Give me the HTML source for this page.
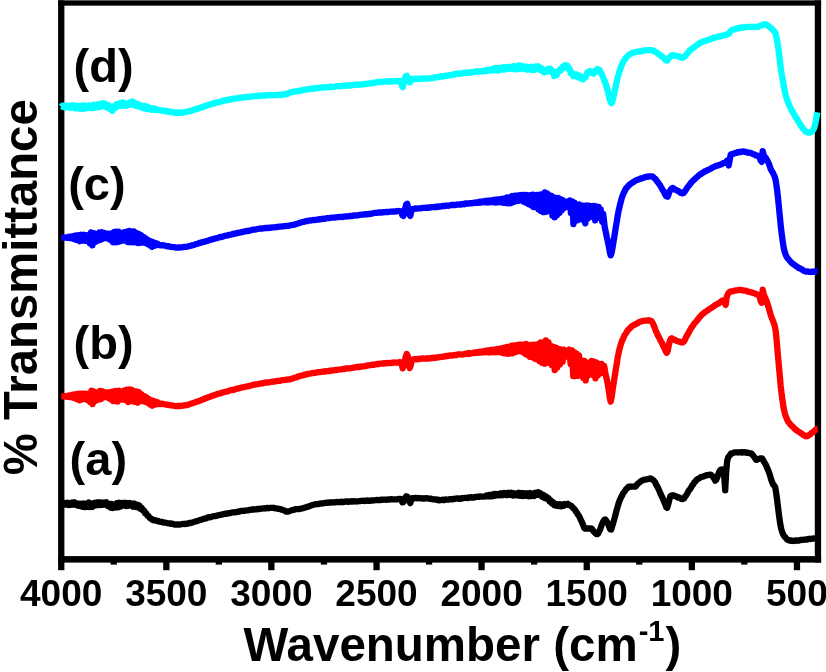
<!DOCTYPE html>
<html><head><meta charset="utf-8"><title>FTIR</title>
<style>html,body{margin:0;padding:0;background:#fff;width:826px;height:672px;overflow:hidden}</style>
</head><body>
<svg width="826" height="672" viewBox="0 0 826 672" style="display:block;position:absolute;left:0;top:0">
<rect x="0" y="0" width="826" height="672" fill="#fff"/>
<rect x="58.1" y="0.35" width="763.0" height="5.3" fill="#000"/>
<rect x="58.1" y="0.35" width="6.3" height="562.2" fill="#000"/>
<rect x="814.8" y="0.35" width="6.3" height="562.2" fill="#000"/>
<rect x="58.1" y="556.1" width="763.0" height="6.5" fill="#000"/>
<rect x="58.1" y="560" width="6.3" height="10.2" fill="#000"/>
<rect x="163.2" y="560" width="6.3" height="10.2" fill="#000"/>
<rect x="268.2" y="560" width="6.3" height="10.2" fill="#000"/>
<rect x="373.4" y="560" width="6.3" height="10.2" fill="#000"/>
<rect x="478.4" y="560" width="6.3" height="10.2" fill="#000"/>
<rect x="583.6" y="560" width="6.3" height="10.2" fill="#000"/>
<rect x="688.7" y="560" width="6.3" height="10.2" fill="#000"/>
<rect x="793.8" y="560" width="6.3" height="10.2" fill="#000"/>
<rect x="110.6" y="560" width="6.3" height="4.6" fill="#000"/>
<rect x="215.7" y="560" width="6.3" height="4.6" fill="#000"/>
<rect x="320.8" y="560" width="6.3" height="4.6" fill="#000"/>
<rect x="425.9" y="560" width="6.3" height="4.6" fill="#000"/>
<rect x="531.0" y="560" width="6.3" height="4.6" fill="#000"/>
<rect x="636.1" y="560" width="6.3" height="4.6" fill="#000"/>
<rect x="741.2" y="560" width="6.3" height="4.6" fill="#000"/>
<polyline points="61.2,504.4 62.7,503.0 63.8,504.7 65.0,503.0 66.4,504.5 67.4,502.8 68.6,505.0 69.5,503.0 70.9,504.6 72.4,502.5 73.4,504.5 74.6,502.4 75.8,504.8 77.0,503.5 78.0,505.6 79.3,503.7 80.4,505.9 81.6,503.9 82.5,506.8 83.8,503.4 84.8,507.1 86.3,503.9 87.4,506.8 88.8,502.6 90.0,507.0 91.4,503.4 92.7,506.9 94.2,503.0 95.5,505.3 96.6,502.5 97.8,505.1 99.1,502.4 100.4,504.9 101.6,502.5 103.1,504.7 104.3,502.5 105.2,504.5 106.6,502.4 107.9,506.0 108.9,503.7 110.5,507.7 111.8,503.9 112.8,508.0 114.4,504.4 115.6,507.4 116.9,503.3 117.8,507.4 119.3,502.8 120.7,506.6 122.0,502.9 123.2,505.4 124.7,502.8 125.7,505.9 127.0,503.1 128.1,505.9 129.4,502.9 130.7,505.3 131.7,503.6 133.0,506.7 134.5,503.6 136.0,506.9 137.5,504.7 138.4,507.6 139.3,505.5 140.4,508.7 141.7,507.8 142.7,510.4 144.0,510.4 145.0,513.2 146.3,513.4 147.5,515.7 148.7,516.2 149.7,518.0 151.2,518.7 152.3,519.8 153.3,520.4 154.3,519.9 155.3,520.2 156.3,520.5 157.3,521.2 158.3,521.0 159.3,521.6 160.3,521.8 161.3,521.9 162.3,521.9 163.3,522.6 164.3,522.7 165.3,522.7 166.3,522.8 167.3,523.2 168.3,523.3 169.3,523.5 170.3,523.5 171.3,523.9 172.3,523.7 173.3,524.0 174.3,524.5 175.3,524.6 176.3,524.4 177.3,524.7 178.3,524.4 179.3,524.7 180.3,524.5 181.3,524.2 182.3,524.0 183.3,523.8 184.3,524.2 185.3,523.6 186.3,523.9 187.3,523.8 188.3,523.4 189.3,522.9 190.3,523.1 191.3,522.9 192.3,522.5 193.3,522.2 194.3,521.8 195.3,521.5 196.3,521.2 197.3,521.1 198.3,520.7 199.3,520.2 200.3,519.9 201.3,519.8 202.3,519.3 203.3,519.0 204.3,518.6 205.3,518.6 206.3,518.3 207.3,517.6 208.3,517.4 209.3,517.2 210.3,517.3 211.3,517.0 212.3,516.5 213.3,516.2 214.3,516.2 215.3,516.1 216.3,515.9 217.3,515.4 218.3,515.4 219.3,515.1 220.3,514.8 221.3,514.9 222.3,514.3 223.3,514.3 224.3,513.8 225.3,513.7 226.3,513.9 227.3,513.4 228.3,513.4 229.3,513.2 230.3,513.1 231.3,512.7 232.3,512.5 233.3,512.3 234.3,512.5 235.3,512.2 236.3,512.2 237.3,512.0 238.3,511.4 239.3,511.5 240.3,511.1 241.3,510.9 242.3,510.8 243.3,511.0 244.3,510.8 245.3,510.7 246.3,510.4 247.3,510.3 248.3,510.3 249.3,510.0 250.3,509.9 251.3,509.6 252.3,509.4 253.3,509.4 254.3,509.6 255.3,509.3 256.3,509.4 257.3,509.0 258.3,508.9 259.3,509.0 260.3,508.9 261.3,508.5 262.3,508.7 263.3,508.3 264.3,508.2 265.3,508.5 266.3,508.0 267.3,508.0 268.3,508.3 269.3,507.9 270.3,507.8 271.3,507.8 272.3,507.8 273.3,508.0 274.3,507.9 275.3,508.3 276.3,508.3 277.3,508.7 278.3,508.9 279.3,508.9 280.3,509.1 281.3,509.5 282.3,509.6 283.3,510.2 284.3,510.5 285.3,510.9 286.3,511.7 287.3,511.5 288.3,511.5 289.3,511.2 290.3,510.8 291.3,510.3 292.3,510.2 293.3,509.9 294.3,509.7 295.3,509.2 296.3,509.1 297.3,509.2 298.3,509.2 299.3,508.9 300.3,508.8 301.3,508.7 302.3,508.3 303.3,508.2 304.3,507.8 305.3,507.5 306.3,507.1 307.3,506.8 308.3,506.7 309.3,506.0 310.3,505.8 311.3,505.4 312.3,505.2 313.3,504.8 314.3,504.5 315.3,504.3 316.3,504.1 317.3,504.2 318.3,504.1 319.3,503.7 320.3,503.5 321.3,503.5 322.3,503.4 323.3,503.3 324.3,503.0 325.3,502.8 326.3,502.8 327.3,502.6 328.3,502.8 329.3,502.5 330.3,502.4 331.3,502.6 332.3,502.3 333.3,502.5 334.3,502.3 335.3,502.4 336.3,502.0 337.3,502.1 338.3,502.2 339.3,501.8 340.3,502.2 341.3,501.7 342.3,502.0 343.3,502.0 344.3,501.9 345.3,501.6 346.3,501.4 347.3,501.6 348.3,501.8 349.3,501.4 350.3,501.7 351.3,501.2 352.3,501.6 353.3,501.1 354.3,501.2 355.3,501.5 356.3,501.4 357.3,501.4 358.3,501.3 359.3,501.2 360.3,501.1 361.3,500.8 362.3,500.9 363.3,500.7 364.3,501.0 365.3,500.9 366.3,500.6 367.3,500.4 368.3,500.9 369.3,500.8 370.3,500.6 371.3,500.5 372.3,500.6 373.3,500.4 374.3,500.3 375.3,500.2 376.3,500.1 377.3,499.9 378.3,500.2 379.3,500.0 380.3,500.1 381.3,499.7 382.3,499.8 383.3,499.7 384.3,499.6 385.3,499.6 386.3,499.9 387.3,499.6 388.3,499.5 389.3,499.6 390.3,499.3 391.3,499.2 392.3,499.4 393.3,499.4 394.3,499.4 395.3,499.3 396.3,499.4 397.3,499.4 398.3,499.0 399.3,499.1 400.3,499.0 401.3,499.1 402.3,502.3 403.3,502.3 404.3,499.4 405.3,497.5 406.3,496.3 407.3,496.7 408.3,498.2 409.3,501.4 410.3,503.1 411.3,499.7 412.3,498.1 413.3,498.2 414.3,498.3 415.3,497.9 416.3,498.1 417.3,498.3 418.3,498.0 419.3,498.2 420.3,498.3 421.3,498.2 422.3,498.5 423.3,498.5 424.3,498.6 425.3,498.4 426.3,498.2 427.3,498.4 428.3,498.4 429.3,498.7 430.3,498.9 431.3,498.6 432.3,499.2 433.3,499.4 434.3,499.3 435.3,499.6 436.3,499.5 437.3,500.1 438.3,499.6 439.3,500.3 440.3,500.2 441.3,500.0 442.3,499.7 443.3,500.1 444.3,500.1 445.3,499.4 446.3,499.7 447.3,499.7 448.3,499.5 449.3,499.4 450.3,499.1 451.3,499.4 452.3,499.4 453.3,498.9 454.3,499.1 455.3,498.8 456.3,498.5 457.3,498.6 458.3,498.4 459.3,498.9 460.3,498.8 461.3,498.1 462.3,498.4 463.3,498.2 464.3,497.8 465.3,497.9 466.3,497.8 467.3,498.1 468.3,497.4 469.3,497.4 470.3,497.5 471.3,497.1 472.3,497.5 473.3,497.4 474.3,497.5 475.3,496.9 476.3,496.8 477.3,496.9 478.3,496.6 479.3,496.8 480.3,496.4 481.3,496.7 482.3,496.7 483.3,496.6 484.3,496.7 485.3,496.5 486.5,495.4 488.0,496.3 489.1,495.2 490.1,496.2 491.1,494.7 492.4,496.1 493.8,494.1 494.8,495.6 496.1,494.1 497.3,495.3 498.6,494.0 499.8,495.1 500.9,493.4 502.4,495.1 503.6,493.0 504.8,494.6 505.7,493.1 507.0,495.1 508.5,492.8 510.1,494.8 511.6,492.9 513.0,495.4 514.1,493.3 515.4,495.2 516.6,493.6 517.8,495.3 518.9,492.9 520.3,495.8 521.8,493.1 523.0,495.9 524.4,493.2 525.7,495.7 527.1,493.2 528.6,496.1 530.1,493.0 531.6,496.0 532.7,493.5 534.1,496.0 535.4,492.8 536.9,494.7 538.1,492.2 539.4,494.9 540.6,493.4 541.9,496.7 543.2,494.9 544.6,498.1 545.9,496.3 547.0,498.8 548.5,498.2 549.5,501.4 550.7,500.4 552.0,503.5 553.0,502.2 554.4,505.3 555.5,503.7 556.6,505.8 557.6,504.2 559.1,505.9 560.1,504.4 561.5,506.3 562.5,504.5 563.8,505.6 565.0,504.0 566.4,504.7 567.8,503.8 569.4,505.3 570.9,505.5 572.2,506.8 573.2,508.2 574.2,508.9 575.2,510.1 576.2,512.0 577.2,513.1 578.2,515.1 579.2,516.3 580.2,518.5 581.2,520.6 582.2,522.8 583.2,525.2 584.2,528.0 585.2,528.7 586.2,528.4 587.2,528.5 588.2,528.4 589.2,528.6 590.2,528.6 591.2,528.3 592.2,529.1 593.2,530.8 594.2,531.9 595.2,533.2 596.2,533.9 597.2,534.2 598.2,533.6 599.2,531.3 600.2,529.4 601.2,526.2 602.2,523.8 603.2,521.6 604.2,520.0 605.2,519.4 606.2,520.5 607.2,522.3 608.2,523.8 609.2,527.0 610.2,529.3 611.2,529.5 612.2,526.1 613.2,523.0 614.2,519.5 615.2,515.9 616.2,511.7 617.2,508.4 618.2,504.7 619.2,501.5 620.2,499.1 621.2,497.1 622.2,495.3 623.2,493.2 624.2,491.9 625.2,490.5 626.2,489.0 627.2,488.4 628.2,486.9 629.2,486.6 630.2,486.9 631.2,486.5 632.2,486.7 633.2,486.5 634.2,486.6 635.2,486.6 636.2,485.9 637.2,484.3 638.2,483.3 639.2,482.9 640.2,481.6 641.2,481.1 642.2,480.5 643.2,480.1 644.2,479.6 645.2,479.7 646.2,479.5 647.2,479.2 648.2,479.0 649.2,478.7 650.2,478.5 651.2,478.6 652.2,479.5 653.2,480.2 654.2,481.1 655.2,482.4 656.2,484.6 657.2,486.3 658.2,488.2 659.2,490.6 660.2,492.9 661.2,495.1 662.2,497.1 663.2,499.5 664.2,501.9 665.2,504.1 666.2,507.1 667.2,507.8 668.2,504.4 669.2,500.3 670.2,496.6 671.2,495.6 672.2,495.5 673.2,495.2 674.2,495.9 675.2,495.8 676.2,496.6 677.2,497.1 678.2,497.6 679.2,497.5 680.2,498.0 681.2,498.9 682.2,499.0 683.2,498.9 684.2,498.3 685.2,496.4 686.2,495.3 687.2,493.5 688.2,491.6 689.2,490.1 690.2,488.8 691.2,487.4 692.2,485.4 693.2,484.3 694.2,482.6 695.2,481.7 696.2,480.2 697.2,479.4 698.2,478.8 699.2,478.4 700.2,477.6 701.2,476.9 702.2,476.9 703.2,476.5 704.2,476.2 705.2,475.6 706.2,475.4 707.2,475.1 708.2,475.1 709.2,474.8 710.2,474.6 711.2,474.9 712.2,475.9 713.2,477.2 714.2,478.6 715.2,480.6 716.2,479.8 717.2,477.5 718.2,474.7 719.2,471.8 720.2,470.2 721.2,469.5 722.2,469.3 723.2,469.5 724.2,476.1 725.2,490.3 726.2,471.4 727.2,460.7 728.2,457.4 729.2,456.0 730.2,454.8 731.2,453.3 732.2,453.3 733.2,452.9 734.2,452.5 735.2,452.3 736.2,452.3 737.2,452.3 738.2,452.5 739.2,452.3 740.2,452.3 741.2,452.1 742.2,452.6 743.2,452.2 744.2,452.3 745.2,452.2 746.2,452.8 747.2,452.6 748.2,452.9 749.2,453.1 750.2,453.3 751.2,453.4 752.2,454.3 753.2,455.6 754.2,457.0 755.2,458.4 756.2,459.8 757.2,459.6 758.2,459.2 759.2,458.7 760.2,458.5 761.2,458.5 762.2,458.5 763.2,460.3 764.2,462.1 765.2,463.7 766.2,465.7 767.2,468.1 768.2,470.3 769.2,473.0 770.2,476.0 771.2,479.7 772.2,482.4 773.2,484.6 774.2,485.5 775.2,487.2 776.2,493.2 777.2,500.5 778.2,508.9 779.2,516.6 780.2,523.6 781.2,528.9 782.2,532.1 783.2,534.5 784.2,536.2 785.2,537.2 786.2,538.3 787.2,539.6 788.2,540.0 789.2,540.1 790.2,540.9 791.2,540.5 792.2,540.7 793.2,541.0 794.2,540.8 795.2,540.5 796.2,540.8 797.2,540.5 798.2,540.6 799.2,540.5 800.2,540.0 801.2,540.0 802.2,539.8 803.2,539.9 804.2,539.7 805.2,539.5 806.2,539.5 807.2,539.5 808.2,538.9 809.2,538.8 810.2,539.0 811.2,538.9 812.2,538.7 813.2,538.6 814.2,538.4 815.2,538.7 816.2,538.6 817.2,538.5" fill="none" stroke="#000000" stroke-width="6.3" stroke-linejoin="round" stroke-linecap="butt"/>
<polyline points="61.2,396.2 62.7,396.3 63.7,396.3 65.1,396.6 66.2,396.0 67.5,396.8 68.6,395.6 69.8,397.0 71.3,395.2 72.6,397.4 73.7,394.6 74.7,398.2 75.9,394.3 77.3,399.3 78.6,393.7 79.6,400.3 80.7,393.6 82.2,399.5 83.3,393.5 84.7,399.1 86.1,393.7 87.5,400.1 89.0,393.7 90.1,402.1 91.5,390.6 92.7,404.2 94.2,391.7 95.6,401.0 97.1,392.9 98.3,399.7 99.7,390.9 101.0,399.2 102.1,391.2 103.2,397.6 104.4,392.0 105.5,396.6 106.9,392.4 108.1,397.7 109.4,392.3 110.5,399.0 112.0,391.6 113.0,401.0 114.4,391.2 115.5,401.0 116.5,390.8 117.7,401.5 119.1,390.6 120.4,399.7 121.5,391.5 122.9,399.6 124.3,390.4 125.5,400.1 126.8,389.6 128.3,402.0 129.6,389.4 130.8,401.2 131.8,389.9 133.2,401.0 134.2,391.2 135.3,401.9 136.5,391.5 137.8,402.6 139.0,392.1 140.2,401.2 141.6,394.3 143.0,401.0 144.3,396.1 145.4,401.8 146.6,397.4 147.8,402.7 148.9,399.0 150.1,404.5 151.2,400.3 152.3,405.7 153.5,400.9 154.8,404.5 155.8,401.8 156.9,404.1 158.2,402.6 159.7,404.0 160.7,404.1 161.7,403.6 162.7,403.9 163.7,404.0 164.7,404.3 165.7,404.5 166.7,404.7 167.7,404.9 168.7,404.9 169.7,405.1 170.7,405.3 171.7,405.3 172.7,405.5 173.7,405.8 174.7,405.8 175.7,406.2 176.7,406.1 177.7,406.0 178.7,406.0 179.7,406.0 180.7,405.9 181.7,405.9 182.7,405.7 183.7,405.5 184.7,405.4 185.7,405.1 186.7,405.1 187.7,404.9 188.7,404.5 189.7,404.1 190.7,403.8 191.7,403.5 192.7,403.0 193.7,402.8 194.7,402.5 195.7,402.0 196.7,401.6 197.7,401.5 198.7,401.0 199.7,400.7 200.7,400.4 201.7,399.9 202.7,399.3 203.7,399.2 204.7,398.6 205.7,398.1 206.7,398.0 207.7,397.4 208.7,397.1 209.7,396.9 210.7,396.5 211.7,395.9 212.7,395.7 213.7,395.4 214.7,395.0 215.7,394.6 216.7,394.4 217.7,393.9 218.7,393.7 219.7,393.4 220.7,393.3 221.7,392.7 222.7,392.7 223.7,392.2 224.7,392.0 225.7,391.7 226.7,391.4 227.7,391.3 228.7,390.9 229.7,390.5 230.7,390.2 231.7,389.9 232.7,390.0 233.7,389.6 234.7,389.5 235.7,389.1 236.7,388.6 237.7,388.6 238.7,388.4 239.7,388.2 240.7,387.8 241.7,387.5 242.7,387.3 243.7,387.2 244.7,386.8 245.7,386.7 246.7,386.4 247.7,386.4 248.7,386.1 249.7,385.9 250.7,385.6 251.7,385.2 252.7,384.9 253.7,384.8 254.7,384.5 255.7,384.4 256.7,384.3 257.7,384.2 258.7,383.9 259.7,383.8 260.7,383.3 261.7,383.3 262.7,383.4 263.7,382.9 264.7,382.8 265.7,382.5 266.7,382.4 267.7,382.6 268.7,382.5 269.7,382.2 270.7,381.8 271.7,381.8 272.7,381.6 273.7,381.6 274.7,381.5 275.7,381.2 276.7,381.1 277.7,380.8 278.7,380.8 279.7,380.9 280.7,380.6 281.7,380.2 282.7,380.2 283.7,380.2 284.7,379.8 285.7,379.9 286.7,379.6 287.7,379.6 288.7,379.3 289.7,379.4 290.7,379.1 291.7,378.8 292.7,378.4 293.7,378.2 294.7,377.7 295.7,377.5 296.7,377.3 297.7,376.6 298.7,376.4 299.7,376.1 300.7,375.8 301.7,375.6 302.7,375.4 303.7,375.0 304.7,374.7 305.7,374.6 306.7,374.1 307.7,374.0 308.7,373.8 309.7,373.7 310.7,373.5 311.7,373.1 312.7,373.1 313.7,372.9 314.7,372.8 315.7,372.8 316.7,372.5 317.7,372.1 318.7,372.2 319.7,372.1 320.7,372.1 321.7,371.8 322.7,371.8 323.7,371.3 324.7,371.6 325.7,371.4 326.7,371.2 327.7,371.2 328.7,371.1 329.7,370.6 330.7,370.8 331.7,370.6 332.7,370.3 333.7,370.4 334.7,370.2 335.7,369.9 336.7,370.0 337.7,369.6 338.7,369.7 339.7,369.5 340.7,369.3 341.7,369.3 342.7,369.1 343.7,368.8 344.7,369.1 345.7,368.5 346.7,368.4 347.7,368.4 348.7,368.5 349.7,368.3 350.7,368.2 351.7,367.9 352.7,367.9 353.7,367.6 354.7,367.4 355.7,367.4 356.7,367.0 357.7,366.9 358.7,367.1 359.7,366.6 360.7,366.8 361.7,366.6 362.7,366.3 363.7,366.3 364.7,366.2 365.7,366.1 366.7,365.6 367.7,365.4 368.7,365.4 369.7,365.3 370.7,365.0 371.7,364.7 372.7,364.8 373.7,364.9 374.7,364.4 375.7,364.3 376.7,364.1 377.7,364.0 378.7,364.1 379.7,363.7 380.7,363.7 381.7,363.5 382.7,363.5 383.7,363.6 384.7,363.1 385.7,363.4 386.7,363.0 387.7,363.1 388.7,363.1 389.7,363.0 390.7,362.8 391.7,363.0 392.7,362.5 393.7,362.7 394.7,362.5 395.7,362.6 396.7,362.7 397.7,362.6 398.7,362.4 399.7,362.2 400.7,362.1 401.7,364.4 402.7,368.4 403.7,365.9 404.7,361.5 405.7,357.0 406.7,353.9 407.7,355.8 408.7,362.0 409.7,368.1 410.7,365.4 411.7,360.7 412.7,359.5 413.7,359.3 414.7,359.1 415.7,359.4 416.7,359.3 417.7,358.9 418.7,359.0 419.7,359.1 420.7,358.7 421.7,358.5 422.7,358.6 423.7,358.5 424.7,358.7 425.7,358.5 426.7,358.4 427.7,358.6 428.7,358.2 429.7,358.5 430.7,358.3 431.7,358.0 432.7,358.1 433.7,357.7 434.7,357.9 435.7,357.8 436.7,357.4 437.7,357.4 438.7,357.4 439.7,357.1 440.7,356.9 441.7,356.9 442.7,356.8 443.7,356.5 444.7,356.5 445.7,356.0 446.7,356.1 447.7,356.0 448.7,355.7 449.7,355.6 450.7,355.3 451.7,355.7 452.7,355.2 453.7,355.2 454.7,355.3 455.7,354.8 456.7,355.1 457.7,354.5 458.7,354.4 459.7,354.4 460.7,354.3 461.7,354.6 462.7,354.5 463.7,354.3 464.7,353.9 465.7,353.9 466.7,353.4 467.7,354.0 468.7,353.1 469.8,353.8 470.8,353.4 472.3,352.8 473.3,353.2 474.5,352.5 475.6,353.0 476.7,352.1 478.0,352.8 479.2,351.8 480.2,352.6 481.6,351.4 483.0,352.4 484.3,351.0 485.5,352.2 486.8,350.6 488.3,352.3 489.5,350.2 490.7,352.2 492.0,349.9 493.2,352.1 494.7,349.5 496.0,352.3 497.2,349.0 498.3,352.1 499.3,348.9 500.7,352.2 501.7,348.2 503.1,353.1 504.2,347.7 505.3,353.5 506.6,346.9 508.1,353.7 509.1,346.8 510.2,353.6 511.5,345.6 512.8,353.3 513.9,345.4 515.3,352.2 516.6,345.2 517.7,351.5 518.7,344.7 519.8,351.0 520.8,344.6 522.0,351.7 523.4,344.6 524.8,353.7 526.3,343.9 527.3,354.8 528.6,345.0 529.8,356.8 531.0,345.0 532.2,357.0 533.6,344.7 534.9,358.7 536.3,344.7 537.4,359.4 538.7,343.8 539.7,361.4 540.8,342.5 542.1,362.9 543.4,342.8 544.8,363.7 545.8,340.5 547.2,361.9 548.5,342.4 549.6,363.2 550.9,345.8 552.0,365.3 553.5,346.8 554.7,370.2 555.9,347.7 557.2,367.6 558.7,348.8 559.9,364.5 561.2,349.4 562.6,361.9 563.9,349.6 565.4,356.6 566.5,352.3 567.7,356.8 569.2,349.5 570.6,363.9 572.0,350.4 573.2,376.0 574.4,352.4 575.5,376.1 576.6,353.6 577.9,375.9 579.0,355.4 580.4,374.1 581.7,360.4 583.2,377.7 584.3,360.9 585.7,380.4 586.7,362.8 587.8,376.1 589.0,362.4 590.4,373.8 591.6,361.0 593.0,375.0 594.3,361.6 595.4,378.4 596.6,362.6 597.9,375.5 599.2,363.9 600.6,373.5 601.7,364.0 603.1,372.7 604.2,365.9 605.7,375.0 606.7,378.9 607.7,383.9 608.7,389.7 609.7,397.4 610.7,401.7 611.7,396.7 612.7,389.4 613.7,382.9 614.7,376.4 615.7,370.1 616.7,363.9 617.7,357.5 618.7,352.5 619.7,348.3 620.7,344.7 621.7,341.7 622.7,339.3 623.7,337.3 624.7,334.9 625.7,333.7 626.7,332.1 627.7,330.3 628.7,329.5 629.7,328.3 630.7,327.4 631.7,326.3 632.7,325.7 633.7,325.1 634.7,324.6 635.7,324.0 636.7,323.6 637.7,323.1 638.7,322.4 639.7,321.8 640.7,321.7 641.7,321.2 642.7,320.9 643.7,320.8 644.7,320.7 645.7,320.6 646.7,320.5 647.7,320.7 648.7,320.2 649.7,320.6 650.7,320.6 651.7,321.3 652.7,323.0 653.7,325.2 654.7,327.8 655.7,330.6 656.7,332.7 657.7,335.1 658.7,336.8 659.7,338.7 660.7,340.9 661.7,342.6 662.7,344.4 663.7,347.0 664.7,348.8 665.7,351.3 666.7,352.8 667.7,351.2 668.7,345.7 669.7,341.3 670.7,338.8 671.7,338.3 672.7,338.9 673.7,339.6 674.7,339.6 675.7,340.5 676.7,341.0 677.7,341.2 678.7,341.7 679.7,341.6 680.7,342.1 681.7,342.4 682.7,342.4 683.7,341.7 684.7,340.2 685.7,337.9 686.7,336.0 687.7,334.4 688.7,332.7 689.7,330.7 690.7,329.0 691.7,327.2 692.7,326.1 693.7,324.2 694.7,323.0 695.7,322.1 696.7,320.9 697.7,319.4 698.7,318.5 699.7,316.9 700.7,316.1 701.7,314.8 702.7,314.0 703.7,313.2 704.7,312.2 705.7,311.7 706.7,311.0 707.7,310.2 708.7,309.7 709.7,308.7 710.7,308.2 711.7,307.6 712.7,306.9 713.7,306.5 714.7,305.4 715.7,305.0 716.7,304.4 717.7,303.7 718.7,303.4 719.7,302.5 720.7,301.8 721.7,301.0 722.7,300.3 723.7,300.3 724.7,303.2 725.7,304.9 726.7,297.2 727.7,294.5 728.7,292.6 729.7,292.0 730.7,291.4 731.7,291.4 732.7,291.3 733.7,290.9 734.7,290.7 735.7,290.4 736.7,290.3 737.7,290.2 738.7,290.1 739.7,289.9 740.7,289.8 741.7,290.2 742.7,290.4 743.7,290.5 744.7,290.7 745.7,290.6 746.7,291.0 747.7,291.6 748.7,291.9 749.7,291.9 750.7,292.2 751.7,292.6 752.7,292.6 753.7,293.2 754.7,293.3 755.7,294.0 756.7,294.1 757.7,294.7 758.7,295.2 759.7,296.9 760.7,301.1 761.7,302.8 762.7,289.7 763.7,294.5 764.7,296.8 765.7,299.0 766.7,301.5 767.7,304.4 768.7,307.9 769.7,311.2 770.7,315.0 771.7,317.7 772.7,320.1 773.7,322.9 774.7,325.6 775.7,331.0 776.7,340.8 777.7,352.7 778.7,364.0 779.7,374.8 780.7,386.1 781.7,394.8 782.7,402.0 783.7,408.5 784.7,412.9 785.7,416.1 786.7,418.6 787.7,420.9 788.7,422.3 789.7,423.4 790.7,424.9 791.7,425.7 792.7,426.6 793.7,427.7 794.7,428.7 795.7,429.7 796.7,430.3 797.7,431.1 798.7,431.7 799.7,432.2 800.7,433.1 801.7,433.6 802.7,434.7 803.7,435.0 804.7,435.8 805.7,436.3 806.7,436.0 807.7,436.1 808.7,435.3 809.7,434.6 810.7,434.0 811.7,432.8 812.7,432.3 813.7,431.5 814.7,430.6 815.7,429.8 816.7,429.0 817.7,428.9" fill="none" stroke="#ff0000" stroke-width="6.3" stroke-linejoin="round" stroke-linecap="butt"/>
<polyline points="61.2,237.4 62.5,237.5 63.8,237.6 64.8,237.7 66.2,237.3 67.3,237.9 68.6,236.9 69.8,238.1 70.9,236.5 72.3,238.4 73.7,236.1 74.7,239.2 76.0,235.5 77.0,240.1 78.3,235.3 79.7,241.2 81.2,234.7 82.6,240.7 84.0,234.7 85.1,240.7 86.2,235.1 87.4,241.0 88.6,235.1 89.8,243.2 91.1,232.5 92.5,245.3 94.0,233.1 95.5,242.0 96.5,234.5 98.0,240.6 99.3,232.4 100.4,240.0 101.7,232.1 102.7,239.0 104.2,232.9 105.6,238.0 106.7,233.6 108.1,238.6 109.1,233.8 110.1,239.7 111.3,233.5 112.8,242.2 114.3,231.9 115.3,242.3 116.3,231.6 117.6,242.2 118.6,231.7 120.1,241.5 121.5,233.2 122.7,240.6 124.0,232.3 125.3,240.8 126.6,231.6 127.9,242.2 129.2,230.8 130.4,242.2 131.6,231.5 132.6,242.3 133.9,231.5 135.2,242.3 136.3,232.8 137.5,243.0 138.7,233.8 140.0,243.0 141.1,235.1 142.5,242.5 143.8,237.0 144.9,242.9 146.1,238.5 147.4,243.9 148.6,240.2 149.6,245.2 151.0,241.2 152.1,246.9 153.2,242.1 154.4,245.7 155.5,243.1 156.6,245.1 157.8,243.9 158.9,245.0 160.3,245.3 161.3,245.1 162.3,245.1 163.3,245.3 164.3,245.6 165.3,245.7 166.3,246.1 167.3,246.3 168.3,246.2 169.3,246.4 170.3,246.8 171.3,246.9 172.3,247.1 173.3,247.1 174.3,247.2 175.3,247.4 176.3,247.7 177.3,247.5 178.3,247.5 179.3,247.5 180.3,247.4 181.3,247.3 182.3,247.4 183.3,247.0 184.3,246.8 185.3,247.0 186.3,246.8 187.3,246.7 188.3,246.2 189.3,246.2 190.3,246.0 191.3,245.5 192.3,245.4 193.3,245.2 194.3,244.8 195.3,244.4 196.3,244.0 197.3,243.8 198.3,243.4 199.3,243.0 200.3,242.9 201.3,242.5 202.3,242.4 203.3,241.8 204.3,241.8 205.3,241.4 206.3,241.2 207.3,240.9 208.3,240.6 209.3,240.2 210.3,239.7 211.3,239.7 212.3,239.2 213.3,238.9 214.3,238.8 215.3,238.5 216.3,238.2 217.3,238.1 218.3,237.7 219.3,237.3 220.3,237.0 221.3,237.0 222.3,236.6 223.3,236.5 224.3,236.0 225.3,235.7 226.3,235.6 227.3,235.5 228.3,235.0 229.3,235.0 230.3,234.8 231.3,234.5 232.3,234.3 233.3,233.7 234.3,233.8 235.3,233.7 236.3,233.1 237.3,233.0 238.3,232.8 239.3,232.7 240.3,232.4 241.3,232.2 242.3,232.2 243.3,231.6 244.3,231.5 245.3,231.3 246.3,231.1 247.3,230.9 248.3,231.0 249.3,230.8 250.3,230.3 251.3,230.2 252.3,229.9 253.3,229.7 254.3,229.6 255.3,229.5 256.3,229.3 257.3,229.0 258.3,228.8 259.3,228.7 260.3,228.5 261.3,228.6 262.3,228.5 263.3,228.3 264.3,228.1 265.3,228.0 266.3,228.0 267.3,228.0 268.3,228.0 269.3,227.7 270.3,227.8 271.3,227.6 272.3,227.4 273.3,227.3 274.3,227.3 275.3,227.2 276.3,227.0 277.3,227.0 278.3,226.8 279.3,226.7 280.3,226.7 281.3,226.6 282.3,226.3 283.3,226.3 284.3,226.2 285.3,226.2 286.3,226.1 287.3,225.8 288.3,225.9 289.3,225.7 290.3,225.3 291.3,225.2 292.3,224.9 293.3,224.9 294.3,224.6 295.3,224.4 296.3,224.0 297.3,223.7 298.3,223.4 299.3,223.0 300.3,222.6 301.3,222.5 302.3,222.0 303.3,221.8 304.3,221.8 305.3,221.3 306.3,221.1 307.3,220.9 308.3,221.0 309.3,220.5 310.3,220.3 311.3,220.5 312.3,220.0 313.3,220.2 314.3,220.0 315.3,219.9 316.3,219.9 317.3,219.6 318.3,219.5 319.3,219.1 320.3,219.3 321.3,219.0 322.3,219.0 323.3,218.6 324.3,218.8 325.3,218.7 326.3,218.2 327.3,218.2 328.3,218.2 329.3,218.2 330.3,217.8 331.3,217.7 332.3,217.6 333.3,217.7 334.3,217.6 335.3,217.4 336.3,217.3 337.3,217.2 338.3,217.1 339.3,217.0 340.3,216.8 341.3,216.9 342.3,217.0 343.3,216.6 344.3,216.7 345.3,216.3 346.3,216.5 347.3,216.4 348.3,216.3 349.3,216.1 350.3,216.0 351.3,215.9 352.3,216.0 353.3,215.5 354.3,215.4 355.3,215.6 356.3,215.6 357.3,215.3 358.3,215.1 359.3,215.1 360.3,214.8 361.3,214.7 362.3,214.6 363.3,214.6 364.3,214.4 365.3,214.2 366.3,214.3 367.3,214.3 368.3,213.9 369.3,214.0 370.3,213.7 371.3,213.8 372.3,213.5 373.3,213.2 374.3,213.1 375.3,212.8 376.3,212.9 377.3,212.8 378.3,212.5 379.3,212.5 380.3,212.4 381.3,212.5 382.3,212.1 383.3,212.4 384.3,212.1 385.3,212.1 386.3,211.9 387.3,212.1 388.3,212.0 389.3,211.8 390.3,211.7 391.3,211.7 392.3,211.7 393.3,211.4 394.3,211.6 395.3,211.6 396.3,211.3 397.3,211.1 398.3,211.0 399.3,211.2 400.3,211.1 401.3,211.5 402.3,215.2 403.3,215.9 404.3,212.0 405.3,208.0 406.3,204.4 407.3,203.9 408.3,209.0 409.3,214.3 410.3,215.9 411.3,211.4 412.3,209.3 413.3,208.8 414.3,208.9 415.3,208.5 416.3,208.4 417.3,208.7 418.3,208.3 419.3,208.3 420.3,208.3 421.3,208.3 422.3,207.8 423.3,207.9 424.3,207.9 425.3,207.9 426.3,207.6 427.3,207.7 428.3,207.9 429.3,207.5 430.3,207.5 431.3,207.1 432.3,207.1 433.3,207.2 434.3,206.8 435.3,207.1 436.3,207.0 437.3,206.4 438.3,206.8 439.3,206.4 440.3,206.5 441.3,206.4 442.3,206.0 443.3,206.1 444.3,206.0 445.3,206.0 446.3,205.5 447.3,205.7 448.3,205.8 449.3,205.5 450.3,205.3 451.3,205.0 452.3,205.1 453.3,204.9 454.3,205.1 455.3,205.0 456.3,204.8 457.3,204.5 458.3,204.7 459.3,204.6 460.3,204.2 461.3,204.5 462.3,204.3 463.3,203.8 464.3,204.3 465.3,203.5 466.3,203.5 467.3,203.8 468.3,203.5 469.3,203.4 470.3,203.1 471.5,203.3 472.6,202.8 473.9,203.1 475.2,202.4 476.4,202.9 477.6,202.1 478.6,202.7 479.7,201.8 480.9,202.6 482.1,201.5 483.5,202.3 484.9,201.0 486.0,202.3 487.1,200.8 488.5,202.3 489.6,200.5 490.9,202.2 492.3,200.2 493.4,202.3 494.5,199.9 495.8,202.4 496.9,199.6 497.9,202.2 499.3,199.4 500.5,202.3 501.8,198.9 503.3,202.7 504.5,198.4 505.7,203.0 507.1,197.5 508.5,203.4 509.7,197.1 510.9,203.2 512.2,196.0 513.4,202.2 514.7,195.6 516.1,201.2 517.2,195.5 518.5,200.9 519.7,195.1 520.7,200.2 522.2,194.9 523.6,201.7 524.7,194.9 526.0,202.8 527.4,195.0 528.5,204.2 530.0,195.2 531.2,205.3 532.5,194.6 533.5,207.0 534.6,194.8 535.8,207.1 537.1,194.9 538.4,209.2 539.7,194.7 540.9,210.9 542.3,194.1 543.5,212.2 544.8,192.5 545.9,211.8 547.0,193.3 548.1,210.2 549.2,195.1 550.2,211.3 551.3,196.0 552.4,215.6 553.6,197.1 554.6,217.3 555.8,198.6 556.9,215.3 558.1,197.9 559.5,213.1 560.6,199.2 561.7,210.5 562.8,200.1 563.9,208.4 565.0,201.6 566.2,204.0 567.4,201.8 568.5,207.0 569.8,200.4 570.9,213.0 572.4,201.3 573.4,224.1 574.4,202.6 575.4,220.9 576.8,204.5 577.9,220.0 579.1,204.3 580.6,217.1 581.6,205.5 582.9,219.6 583.9,206.0 585.3,223.3 586.5,205.5 587.9,218.5 589.0,205.7 590.3,214.7 591.6,206.1 592.8,217.0 593.9,205.9 595.2,220.4 596.2,206.3 597.5,217.4 598.7,207.0 599.8,217.9 600.8,209.5 602.2,221.7 603.2,213.8 604.7,226.8 605.7,231.6 606.7,236.6 607.7,241.0 608.7,245.7 609.7,251.4 610.7,255.4 611.7,252.4 612.7,246.8 613.7,240.6 614.7,234.5 615.7,227.8 616.7,222.0 617.7,215.7 618.7,210.3 619.7,206.2 620.7,202.0 621.7,198.4 622.7,195.2 623.7,193.0 624.7,191.0 625.7,189.0 626.7,187.7 627.7,186.9 628.7,185.3 629.7,184.6 630.7,183.7 631.7,183.1 632.7,182.4 633.7,181.9 634.7,181.2 635.7,180.5 636.7,180.0 637.7,179.6 638.7,179.6 639.7,178.8 640.7,178.4 641.7,178.6 642.7,177.8 643.7,177.9 644.7,177.1 645.7,177.1 646.7,176.7 647.7,176.9 648.7,176.5 649.7,176.4 650.7,176.4 651.7,176.4 652.7,176.6 653.7,177.6 654.7,178.5 655.7,179.2 656.7,180.8 657.7,181.9 658.7,183.5 659.7,184.6 660.7,186.5 661.7,188.2 662.7,190.1 663.7,191.4 664.7,193.6 665.7,195.5 666.7,196.5 667.7,196.7 668.7,193.9 669.7,191.2 670.7,189.6 671.7,188.4 672.7,188.0 673.7,188.4 674.7,189.4 675.7,189.7 676.7,190.4 677.7,190.7 678.7,191.4 679.7,191.9 680.7,192.9 681.7,193.1 682.7,193.3 683.7,192.9 684.7,191.4 685.7,190.2 686.7,188.6 687.7,187.1 688.7,185.9 689.7,184.5 690.7,183.3 691.7,181.9 692.7,181.1 693.7,179.9 694.7,179.3 695.7,178.3 696.7,177.1 697.7,176.7 698.7,175.4 699.7,174.6 700.7,174.3 701.7,173.4 702.7,172.9 703.7,172.3 704.7,171.4 705.7,171.3 706.7,170.5 707.7,170.1 708.7,169.6 709.7,169.3 710.7,168.8 711.7,168.0 712.7,167.4 713.7,167.1 714.7,166.7 715.7,166.0 716.7,165.6 717.7,165.6 718.7,165.1 719.7,164.9 720.7,164.5 721.7,164.1 722.7,163.4 723.7,163.0 724.7,162.7 725.7,162.3 726.7,161.0 727.7,160.3 728.7,165.5 729.7,160.1 730.7,154.6 731.7,154.1 732.7,154.0 733.7,153.7 734.7,153.1 735.7,152.8 736.7,152.9 737.7,152.2 738.7,152.0 739.7,152.1 740.7,152.0 741.7,151.6 742.7,151.5 743.7,151.5 744.7,151.9 745.7,151.9 746.7,152.4 747.7,152.5 748.7,152.9 749.7,152.6 750.7,153.0 751.7,153.3 752.7,154.0 753.7,154.3 754.7,154.6 755.7,155.3 756.7,155.4 757.7,155.8 758.7,156.1 759.7,157.8 760.7,160.6 761.7,161.8 762.7,151.1 763.7,155.3 764.7,156.7 765.7,157.8 766.7,159.5 767.7,161.4 768.7,163.3 769.7,166.0 770.7,169.0 771.7,170.9 772.7,172.4 773.7,174.5 774.7,176.6 775.7,180.6 776.7,187.0 777.7,195.2 778.7,204.9 779.7,215.0 780.7,225.4 781.7,233.9 782.7,241.3 783.7,247.8 784.7,251.9 785.7,254.8 786.7,256.8 787.7,258.4 788.7,259.5 789.7,260.6 790.7,261.9 791.7,263.0 792.7,263.6 793.7,264.3 794.7,265.0 795.7,265.8 796.7,266.7 797.7,267.1 798.7,268.1 799.7,268.2 800.7,268.8 801.7,269.4 802.7,269.9 803.7,270.7 804.7,271.2 805.7,271.6 806.7,271.6 807.7,271.4 808.7,271.8 809.7,271.8 810.7,271.8 811.7,271.7 812.7,271.9 813.7,271.9 814.7,271.3 815.7,271.6 816.7,271.4 817.7,271.5" fill="none" stroke="#0000ff" stroke-width="6.3" stroke-linejoin="round" stroke-linecap="butt"/>
<polyline points="61.2,106.9 62.2,105.9 63.2,106.9 64.4,105.6 65.8,107.5 66.9,105.7 68.0,107.2 68.9,105.9 70.5,107.9 72.0,105.4 73.0,107.7 74.3,105.5 75.8,108.4 76.8,105.7 78.2,108.2 79.2,105.9 80.1,108.7 81.7,105.9 82.8,108.9 84.1,105.5 85.6,108.5 86.7,105.8 88.0,108.0 89.1,105.4 90.0,107.8 91.3,105.8 92.6,108.1 93.7,104.7 94.8,107.8 95.8,104.8 96.9,107.3 98.3,104.4 99.6,107.1 100.6,104.0 101.7,106.3 103.0,103.2 104.1,105.4 105.3,104.0 106.7,107.5 108.3,105.0 109.9,109.1 111.0,107.3 112.4,110.8 114.0,106.5 115.5,107.8 116.5,104.3 117.5,106.2 119.1,103.5 120.0,105.5 121.0,102.9 122.1,105.8 123.1,102.6 124.3,105.6 125.2,103.6 126.3,105.9 127.3,103.2 128.5,104.7 130.1,102.3 131.4,104.8 132.6,101.4 133.8,104.7 135.0,103.4 136.2,105.7 137.7,103.9 139.0,106.5 140.0,105.2 141.1,107.2 142.6,106.0 143.5,108.3 144.8,105.8 146.0,108.8 147.4,106.7 148.8,109.0 149.7,107.7 151.3,109.7 152.8,108.4 154.2,109.9 155.5,108.8 156.8,109.8 157.8,110.0 158.8,109.8 159.8,110.4 160.8,110.5 161.8,110.2 162.8,110.9 163.8,111.0 164.8,111.0 165.8,110.8 166.8,111.5 167.8,111.2 168.8,111.9 169.8,111.9 170.8,111.7 171.8,111.9 172.8,112.4 173.8,112.5 174.8,112.7 175.8,113.0 176.8,112.6 177.8,112.5 178.8,113.0 179.8,112.4 180.8,112.8 181.8,112.3 182.8,112.5 183.8,112.4 184.8,112.3 185.8,111.9 186.8,111.9 187.8,111.3 188.8,111.4 189.8,110.9 190.8,111.0 191.8,110.7 192.8,110.2 193.8,109.9 194.8,109.3 195.8,109.0 196.8,109.0 197.8,108.6 198.8,108.4 199.8,108.0 200.8,107.4 201.8,107.1 202.8,107.0 203.8,106.5 204.8,105.9 205.8,106.0 206.8,105.7 207.8,105.0 208.8,104.9 209.8,104.5 210.8,104.4 211.8,103.9 212.8,103.5 213.8,103.4 214.8,103.4 215.8,102.6 216.8,102.4 217.8,102.4 218.8,102.2 219.8,101.8 220.8,101.5 221.8,101.4 222.8,101.1 223.8,100.5 224.8,100.7 225.8,100.1 226.8,99.9 227.8,100.0 228.8,99.6 229.8,99.6 230.8,99.1 231.8,99.3 232.8,98.8 233.8,98.6 234.8,98.6 235.8,98.4 236.8,98.3 237.8,98.3 238.8,98.1 239.8,97.6 240.8,97.6 241.8,97.6 242.8,97.5 243.8,97.5 244.8,97.2 245.8,96.9 246.8,96.9 247.8,97.0 248.8,96.7 249.8,96.8 250.8,96.8 251.8,96.5 252.8,96.4 253.8,96.3 254.8,96.0 255.8,96.2 256.8,95.9 257.8,96.0 258.8,95.7 259.8,95.9 260.8,95.8 261.8,95.7 262.8,95.5 263.8,95.4 264.8,95.6 265.8,95.4 266.8,95.5 267.8,95.2 268.8,95.1 269.8,95.1 270.8,95.4 271.8,95.1 272.8,95.3 273.8,95.1 274.8,95.1 275.8,95.0 276.8,95.0 277.8,94.8 278.8,94.9 279.8,95.0 280.8,94.6 281.8,94.8 282.8,94.6 283.8,94.5 284.8,94.2 285.8,94.0 286.8,94.0 287.8,93.6 288.8,93.1 289.8,92.8 290.8,92.5 291.8,91.9 292.8,91.9 293.8,91.7 294.8,91.5 295.8,91.5 296.8,91.3 297.8,91.2 298.8,90.7 299.8,90.8 300.8,90.6 301.8,90.5 302.8,90.2 303.8,90.1 304.8,89.7 305.8,89.7 306.8,89.3 307.8,89.2 308.8,89.2 309.8,89.0 310.8,88.7 311.8,88.5 312.8,88.5 313.8,88.5 314.8,88.5 315.8,88.4 316.8,88.1 317.8,88.0 318.8,88.1 319.8,87.7 320.8,87.7 321.8,87.4 322.8,87.4 323.8,87.5 324.8,87.4 325.8,87.3 326.8,87.1 327.8,87.3 328.8,87.1 329.8,86.8 330.8,86.6 331.8,87.0 332.8,86.9 333.8,86.8 334.8,86.6 335.8,86.3 336.8,86.2 337.8,86.2 338.8,86.1 339.8,86.3 340.8,86.2 341.8,86.1 342.8,85.7 343.8,85.7 344.8,85.6 345.8,85.9 346.8,85.4 347.8,85.6 348.8,85.5 349.8,85.4 350.8,85.5 351.8,85.1 352.8,85.1 353.8,84.9 354.8,84.8 355.8,84.7 356.8,84.7 357.8,84.5 358.8,84.4 359.8,84.8 360.8,84.3 361.8,84.5 362.8,84.3 363.8,84.2 364.8,84.0 365.8,84.0 366.8,83.9 367.8,83.7 368.8,83.5 369.8,83.4 370.8,83.3 371.8,83.1 372.8,82.9 373.8,82.6 374.8,82.8 375.8,82.5 376.8,82.1 377.8,82.0 378.8,82.3 379.8,81.9 380.8,81.9 381.8,81.9 382.8,82.0 383.8,81.6 384.8,81.6 385.8,81.6 386.8,81.3 387.8,81.7 388.8,81.2 389.8,81.7 390.8,81.2 391.8,81.1 392.8,81.5 393.8,81.4 394.8,81.1 395.8,81.2 396.8,81.1 397.8,81.2 398.8,80.9 399.8,81.2 400.8,81.6 401.8,85.6 402.8,87.1 403.8,81.8 404.8,78.3 405.8,76.2 406.8,75.8 407.8,79.2 408.8,80.9 409.8,82.3 410.8,79.9 411.8,78.7 412.8,79.3 413.8,79.4 414.8,79.1 415.8,78.6 416.8,79.0 417.8,78.7 418.8,79.0 419.8,78.8 420.8,78.5 421.8,78.9 422.8,78.7 423.8,78.4 424.8,78.7 425.8,78.7 426.8,78.7 427.8,78.6 428.8,78.4 429.8,78.3 430.8,78.2 431.8,78.0 432.8,78.2 433.8,77.6 434.8,77.3 435.8,77.6 436.8,77.3 437.8,77.1 438.8,77.0 439.8,76.6 440.8,76.4 441.8,76.1 442.8,76.5 443.8,76.4 444.8,76.1 445.8,75.5 446.8,76.0 447.8,75.7 448.8,75.3 449.8,74.8 450.8,75.2 451.8,74.9 452.8,74.7 453.8,74.1 454.8,74.5 455.8,73.8 456.8,73.9 457.8,73.5 458.8,73.6 459.8,73.8 460.8,73.6 461.8,73.5 462.8,73.0 463.8,72.9 464.8,73.0 465.8,72.4 466.8,72.6 467.8,72.9 468.8,72.6 469.8,72.6 470.8,72.1 471.8,72.3 472.8,72.3 473.8,72.1 474.8,71.8 475.8,71.5 476.8,71.2 477.8,71.8 478.8,71.7 479.8,71.1 480.8,71.4 481.8,71.0 482.8,71.4 484.3,70.4 485.6,71.1 486.9,70.1 487.9,70.9 489.5,69.6 490.9,70.5 492.5,69.0 493.5,70.4 495.0,68.1 496.5,70.3 497.5,68.1 498.7,70.5 499.8,67.9 501.3,69.4 502.8,67.4 504.1,69.6 505.7,67.4 507.2,68.9 508.6,67.2 510.0,68.7 511.0,66.9 512.2,68.7 513.8,66.1 514.9,69.2 515.9,66.4 517.5,69.1 518.9,65.4 519.8,69.0 521.2,65.7 522.7,68.2 523.7,66.5 525.0,69.0 526.3,66.5 527.7,69.7 529.1,67.3 530.1,69.3 531.2,66.9 532.2,69.9 533.4,67.1 534.8,69.8 535.8,66.4 537.4,68.2 538.3,66.4 539.8,69.7 541.3,68.2 542.3,71.3 543.7,69.9 544.7,72.4 545.9,70.1 547.1,71.5 548.0,68.9 549.4,70.9 550.4,68.7 551.7,72.0 552.9,71.6 554.2,76.0 555.5,73.6 556.9,74.8 557.8,71.4 559.2,71.6 560.2,69.3 561.3,70.1 562.4,67.0 563.4,68.2 564.8,65.4 566.3,67.4 567.4,65.6 568.7,69.3 569.9,69.2 570.9,73.4 571.9,72.7 573.2,76.1 574.2,74.0 575.5,76.0 577.0,74.5 577.9,77.2 579.4,75.6 580.7,78.2 581.6,77.3 583.1,79.4 584.4,77.6 585.7,77.2 587.3,72.5 588.5,72.5 589.7,71.1 591.2,72.8 592.4,72.1 593.6,73.6 594.7,71.0 596.3,71.6 597.3,68.9 598.9,70.8 599.8,70.3 600.9,73.1 602.1,74.8 603.4,78.2 604.4,80.5 605.4,83.1 606.4,86.2 607.4,89.7 608.4,93.5 609.4,97.7 610.4,101.4 611.4,103.2 612.4,101.2 613.4,97.3 614.4,92.6 615.4,87.9 616.4,83.5 617.4,78.7 618.4,75.0 619.4,71.4 620.4,68.8 621.4,65.6 622.4,63.6 623.4,61.6 624.4,60.0 625.4,58.5 626.4,57.2 627.4,56.4 628.4,55.3 629.4,54.6 630.4,53.8 631.4,53.6 632.4,52.8 633.4,52.7 634.4,52.5 635.4,52.1 636.4,51.9 637.4,51.7 638.4,51.3 639.4,51.6 640.4,51.3 641.4,51.1 642.4,51.1 643.4,50.6 644.4,50.4 645.4,50.4 646.4,50.3 647.4,50.2 648.4,50.2 649.4,50.1 650.4,50.2 651.4,50.1 652.4,50.3 653.4,50.8 654.4,51.1 655.4,51.9 656.4,52.5 657.4,52.9 658.4,53.9 659.4,54.3 660.4,55.1 661.4,56.5 662.4,56.7 663.4,57.6 664.4,59.1 665.4,59.5 666.4,60.6 667.4,60.5 668.4,58.9 669.4,57.4 670.4,56.8 671.4,55.6 672.4,55.1 673.4,55.4 674.4,55.7 675.4,55.7 676.4,55.8 677.4,56.5 678.4,56.3 679.4,56.6 680.4,56.9 681.4,57.8 682.4,57.6 683.4,57.5 684.4,56.6 685.4,55.9 686.4,54.5 687.4,53.3 688.4,52.3 689.4,50.7 690.4,49.9 691.4,49.3 692.4,48.4 693.4,47.6 694.4,47.1 695.4,46.1 696.4,45.7 697.4,44.8 698.4,44.0 699.4,43.6 700.4,42.9 701.4,42.2 702.4,41.9 703.4,41.4 704.4,41.2 705.4,41.0 706.4,40.6 707.4,40.3 708.4,39.6 709.4,39.5 710.4,39.3 711.4,38.6 712.4,38.6 713.4,37.7 714.4,37.9 715.4,37.5 716.4,37.3 717.4,36.9 718.4,36.6 719.4,36.1 720.4,36.1 721.4,36.0 722.4,35.6 723.4,35.4 724.4,35.4 725.4,34.8 726.4,34.6 727.4,34.1 728.4,33.9 729.4,32.7 730.4,31.6 731.4,30.3 732.4,29.8 733.4,29.5 734.4,29.4 735.4,28.8 736.4,28.6 737.4,28.4 738.4,28.4 739.4,27.7 740.4,28.0 741.4,27.3 742.4,27.6 743.4,27.5 744.4,27.2 745.4,27.3 746.4,26.9 747.4,26.8 748.4,26.9 749.4,26.8 750.4,27.0 751.4,26.8 752.4,26.8 753.4,27.0 754.4,26.8 755.4,26.8 756.4,26.9 757.4,26.8 758.4,26.6 759.4,26.1 760.4,25.8 761.4,25.4 762.4,25.0 763.4,24.6 764.4,24.2 765.4,24.3 766.4,24.6 767.4,25.5 768.4,25.9 769.4,27.0 770.4,27.6 771.4,28.3 772.4,29.7 773.4,30.6 774.4,31.3 775.4,33.0 776.4,36.9 777.4,42.1 778.4,48.5 779.4,56.6 780.4,65.2 781.4,72.5 782.4,78.4 783.4,84.1 784.4,89.2 785.4,93.7 786.4,97.6 787.4,100.6 788.4,103.0 789.4,105.7 790.4,107.5 791.4,109.9 792.4,111.5 793.4,113.1 794.4,114.8 795.4,116.7 796.4,118.0 797.4,119.6 798.4,121.6 799.4,123.1 800.4,124.8 801.4,126.2 802.4,127.7 803.4,129.1 804.4,129.9 805.4,131.2 806.4,131.8 807.4,132.5 808.4,132.4 809.4,132.7 810.4,132.1 811.4,131.9 812.4,131.2 813.4,129.6 814.4,127.3 815.4,123.2 816.4,117.3 817.4,112.3" fill="none" stroke="#00ffff" stroke-width="6.3" stroke-linejoin="round" stroke-linecap="butt"/>
<text x="61.2" y="606" font-size="37" text-anchor="middle" font-family="'Liberation Sans', sans-serif" font-weight="bold">4000</text>
<text x="166.3" y="606" font-size="37" text-anchor="middle" font-family="'Liberation Sans', sans-serif" font-weight="bold">3500</text>
<text x="271.4" y="606" font-size="37" text-anchor="middle" font-family="'Liberation Sans', sans-serif" font-weight="bold">3000</text>
<text x="376.5" y="606" font-size="37" text-anchor="middle" font-family="'Liberation Sans', sans-serif" font-weight="bold">2500</text>
<text x="481.6" y="606" font-size="37" text-anchor="middle" font-family="'Liberation Sans', sans-serif" font-weight="bold">2000</text>
<text x="586.7" y="606" font-size="37" text-anchor="middle" font-family="'Liberation Sans', sans-serif" font-weight="bold">1500</text>
<text x="691.8" y="606" font-size="37" text-anchor="middle" font-family="'Liberation Sans', sans-serif" font-weight="bold">1000</text>
<text x="796.9" y="606" font-size="37" text-anchor="middle" font-family="'Liberation Sans', sans-serif" font-weight="bold">500</text>
<text x="243.5" y="660.7" font-size="47.5" font-family="'Liberation Sans', sans-serif" font-weight="bold">Wavenumber (cm<tspan font-size="29" dy="-19.5" dx="1">-1</tspan><tspan dy="19.5" dx="1">)</tspan></text>
<text transform="translate(36.7,475.2) rotate(-90)" font-size="47.3" font-family="'Liberation Sans', sans-serif" font-weight="bold">% Transmittance</text>
<text x="73.6" y="82.0" font-size="47" font-family="'Liberation Sans', sans-serif" font-weight="bold">(d)</text>
<text x="68.2" y="200.4" font-size="47" font-family="'Liberation Sans', sans-serif" font-weight="bold">(c)</text>
<text x="73.6" y="359.2" font-size="47" font-family="'Liberation Sans', sans-serif" font-weight="bold">(b)</text>
<text x="69.6" y="475.4" font-size="47" font-family="'Liberation Sans', sans-serif" font-weight="bold">(a)</text>
</svg>
</body></html>
